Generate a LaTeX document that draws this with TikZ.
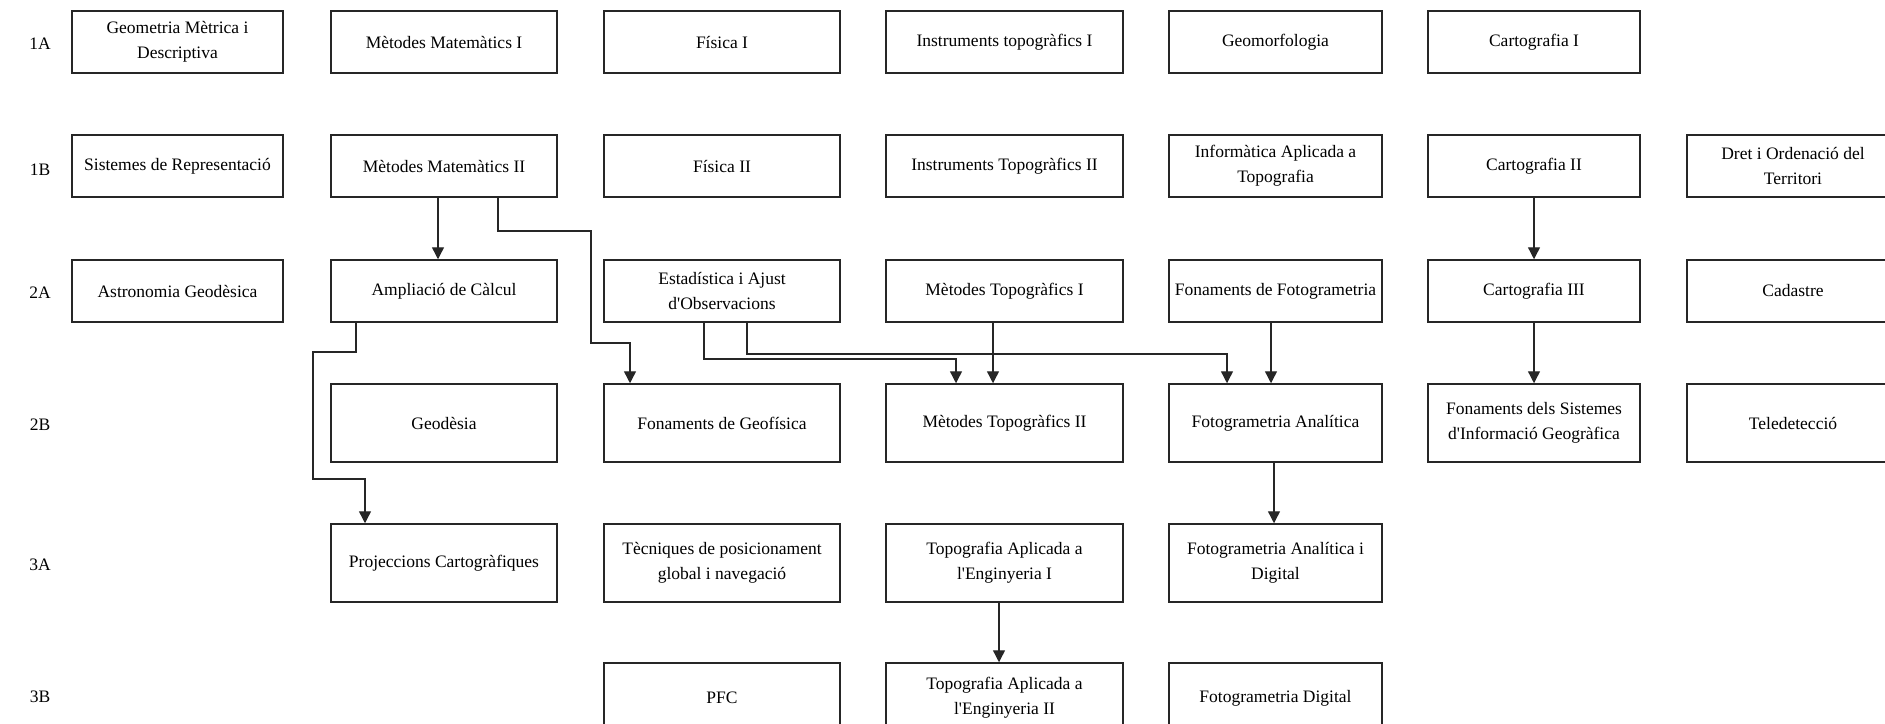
\documentclass[tikz,border=0pt]{standalone}
\usepackage{fontspec}
\setmainfont{Liberation Serif}
\usetikzlibrary{arrows.meta}
\tikzset{
  subj/.style={draw=black!85, line width=1.5pt, rectangle, inner sep=1pt,
    align=center, font=\fontsize{17.5}{25}\selectfont, text=black},
  c0/.style={minimum width=211pt}, c1/.style={minimum width=226pt},
  c2/.style={minimum width=236pt}, c3/.style={minimum width=237pt},
  c4/.style={minimum width=213pt}, c5/.style={minimum width=212pt},
  c6/.style={minimum width=212pt},
  rs/.style={minimum height=62pt}, rt/.style={minimum height=78pt},
  rowlab/.style={font=\fontsize{17.5}{25}\selectfont, text=black},
  link/.style={draw=black!85, line width=1.4pt, -{Triangle[width=12pt,length=12pt]}}
}
\begin{document}
\begin{tikzpicture}[x=1pt,y=-1pt]
\useasboundingbox (0,0) rectangle (1885,723);
\clip (0,0) rectangle (1885,723);
% row labels
\node[rowlab] (l1a) at (40,44) {1A};
\node[rowlab] (l1b) at (40,170) {1B};
\node[rowlab] (l2a) at (40,293) {2A};
\node[rowlab] (l2b) at (40,425) {2B};
\node[rowlab] (l3a) at (40,565) {3A};
\node[rowlab] (l3b) at (40,697) {3B};
% row 1A
\node[subj,c0,rs] (gmd) at (177.5,42) {Geometria Mètrica i\\Descriptiva};
\node[subj,c1,rs] (mm1) at (444,42) {Mètodes Matemàtics I};
\node[subj,c2,rs] (fis1) at (722,42) {Física I};
\node[subj,c3,rs] (it1) at (1004.5,42) {Instruments topogràfics I};
\node[subj,c4,rs] (geom) at (1275.5,42) {Geomorfologia};
\node[subj,c5,rs] (car1) at (1534,42) {Cartografia I};
% row 1B
\node[subj,c0,rs] (sr) at (177.5,166) {Sistemes de Representació};
\node[subj,c1,rs] (mm2) at (444,166) {Mètodes Matemàtics II};
\node[subj,c2,rs] (fis2) at (722,166) {Física II};
\node[subj,c3,rs] (it2) at (1004.5,166) {Instruments Topogràfics II};
\node[subj,c4,rs] (inf) at (1275.5,166) {Informàtica Aplicada a\\Topografia};
\node[subj,c5,rs] (car2) at (1534,166) {Cartografia II};
\node[subj,c6,rs] (dret) at (1793,166) {Dret i Ordenació del\\Territori};
% row 2A
\node[subj,c0,rs] (ast) at (177.5,291) {Astronomia Geodèsica};
\node[subj,c1,rs] (amp) at (444,291) {Ampliació de Càlcul};
\node[subj,c2,rs] (est) at (722,291) {Estadística i Ajust\\d\textquotesingle Observacions};
\node[subj,c3,rs] (mt1) at (1004.5,291) {Mètodes Topogràfics I};
\node[subj,c4,rs] (ffot) at (1275.5,291) {Fonaments de Fotogrametria};
\node[subj,c5,rs] (car3) at (1534,291) {Cartografia III};
\node[subj,c6,rs] (cad) at (1793,291) {Cadastre};
% row 2B
\node[subj,c1,rt] (geod) at (444,423) {Geodèsia};
\node[subj,c2,rt] (fgeo) at (722,423) {Fonaments de Geofísica};
\node[subj,c3,rt] (mt2) at (1004.5,423) {Mètodes Topogràfics II};
\node[subj,c4,rt] (fan) at (1275.5,423) {Fotogrametria Analítica};
\node[subj,c5,rt] (sig) at (1534,423) {Fonaments dels Sistemes\\d\textquotesingle Informació Geogràfica};
\node[subj,c6,rt] (tel) at (1793,423) {Teledetecció};
% row 3A
\node[subj,c1,rt] (proj) at (444,563) {Projeccions Cartogràfiques};
\node[subj,c2,rt] (tpg) at (722,563) {Tècniques de posicionament\\global i navegació};
\node[subj,c3,rt] (tae1) at (1004.5,563) {Topografia Aplicada a\\l\textquotesingle Enginyeria I};
\node[subj,c4,rt] (fad) at (1275.5,563) {Fotogrametria Analítica i\\Digital};
% row 3B
\node[subj,c2,minimum height=70pt] (pfc) at (722,698) {PFC};
\node[subj,c3,minimum height=70pt] (tae2) at (1004.5,698) {Topografia Aplicada a\\l\textquotesingle Enginyeria II};
\node[subj,c4,minimum height=70pt] (fdig) at (1275.5,698) {Fotogrametria Digital};
% connectors
\draw[link] (mm2.south -| 438,0) -- (amp.north -| 438,0);
\draw[link] (mm2.south -| 498,0) |- (591,231) |- (630,343) -- (fgeo.north -| 630,0);
\draw[link] (amp.south -| 356,0) |- (313,352) |- (365,479) -- (proj.north -| 365,0);
\draw[link] (est.south -| 704,0) |- (956,359) -- (mt2.north -| 956,0);
\draw[link] (est.south -| 747,0) |- (1227,354) -- (fan.north -| 1227,0);
\draw[link] (mt1.south -| 993,0) -- (mt2.north -| 993,0);
\draw[link] (ffot.south -| 1271,0) -- (fan.north -| 1271,0);
\draw[link] (fan.south -| 1274,0) -- (fad.north -| 1274,0);
\draw[link] (car2.south) -- (car3.north);
\draw[link] (car3.south) -- (sig.north);
\draw[link] (tae1.south -| 999,0) -- (tae2.north -| 999,0);
\end{tikzpicture}
\end{document}
